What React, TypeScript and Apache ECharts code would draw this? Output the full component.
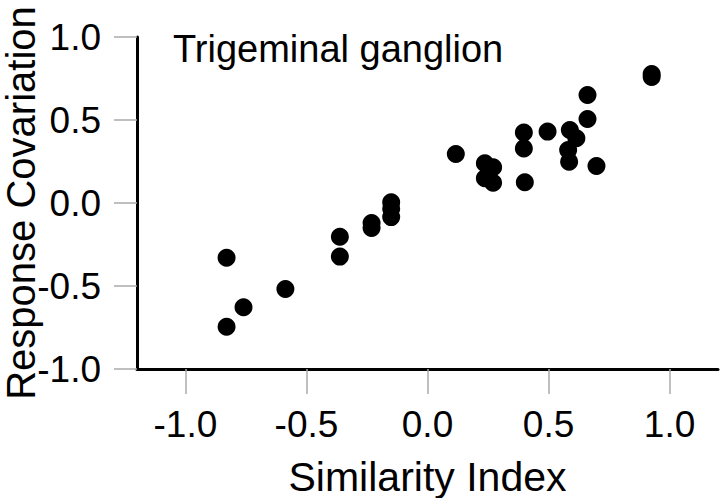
import React, { useEffect, useRef } from "react";
import * as echarts from "echarts";

const similarityIndex = [
  -0.83, -0.83, -0.76, -0.587, -0.362, -0.362, -0.231, -0.231, -0.15, -0.15, -0.15,
  0.117, 0.237, 0.271, 0.237, 0.271, 0.398, 0.398, 0.402, 0.496,
  0.588, 0.615, 0.581, 0.585, 0.661, 0.661, 0.698, 0.926, 0.926,
];
const responseCovariation = [
  -0.33, -0.745, -0.628, -0.518, -0.203, -0.323, -0.12, -0.15, 0.005, -0.035, -0.085,
  0.295, 0.239, 0.215, 0.149, 0.122, 0.424, 0.329, 0.125, 0.43,
  0.44, 0.39, 0.319, 0.249, 0.651, 0.506, 0.223, 0.777, 0.759,
];
const tickValues = [-1, -0.5, 0, 0.5, 1];

const FONT = "'Liberation Sans', Arial, Helvetica, sans-serif";

export default function App() {
  const ref = useRef<HTMLDivElement>(null);
  useEffect(() => {
    if (!ref.current) return;
    const chart = echarts.init(ref.current, undefined, { renderer: "svg" });
    const points = similarityIndex.map((x, i) => [x, responseCovariation[i]]);
    chart.setOption({
      animation: false,
      backgroundColor: "#ffffff",
      title: {
        text: "Trigeminal ganglion",
        left: 173,
        top: 30,
        padding: 0,
        textStyle: { fontFamily: FONT, fontSize: 38, fontWeight: "normal", color: "#000" },
      },
      grid: {
        left: 137,
        right: 2,
        top: 37,
        bottom: 129,
        containLabel: false,
        outerBoundsMode: "none",
      },
      xAxis: {
        type: "value",
        min: -1.2,
        max: 1.2,
        name: "Similarity Index",
        nameLocation: "middle",
        nameGap: 87,
        nameMoveOverlap: false,
        nameTextStyle: { fontFamily: FONT, fontSize: 41, color: "#000" },
        axisLine: { onZero: false, lineStyle: { color: "#000", width: 3 } },
        axisTick: {
          show: true,
          length: 25,
          customValues: tickValues,
          lineStyle: { color: "#aaaaaa", width: 1.5 },
        },
        axisLabel: {
          customValues: tickValues,
          margin: 37,
          fontFamily: FONT,
          fontSize: 37,
          color: "#000",
          formatter: (v: number) => v.toFixed(1),
        },
        splitLine: { show: false },
      },
      yAxis: {
        type: "value",
        min: -1,
        max: 1,
        interval: 0.5,
        name: "Response Covariation",
        nameLocation: "middle",
        nameGap: 96,
        nameMoveOverlap: false,
        nameTextStyle: { fontFamily: FONT, fontSize: 40, color: "#000" },
        axisLine: { onZero: false, lineStyle: { color: "#000", width: 3 } },
        axisTick: { show: true, length: 23, lineStyle: { color: "#aaaaaa", width: 1.5 } },
        axisLabel: {
          margin: 36,
          fontFamily: FONT,
          fontSize: 37,
          color: "#000",
          formatter: (v: number) => v.toFixed(1),
        },
        splitLine: { show: false },
      },
      series: [
        {
          type: "scatter",
          data: points,
          symbol: "circle",
          symbolSize: 18,
          itemStyle: { color: "#000", opacity: 1 },
        },
      ],
    });
    return () => chart.dispose();
  }, []);
  return (
    <div
      ref={ref}
      style={{ position: "fixed", left: 0, top: 0, width: 720, height: 498 }}
    />
  );
}
